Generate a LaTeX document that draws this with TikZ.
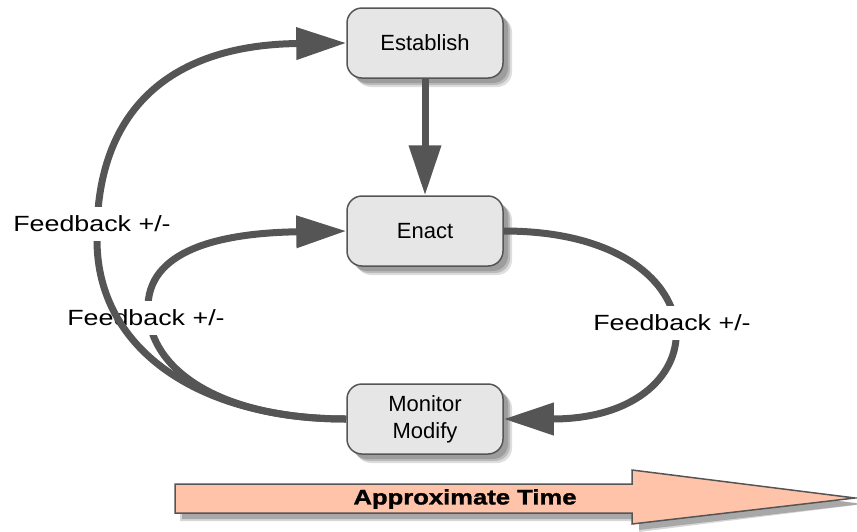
\documentclass[tikz,border=0pt]{standalone}
\usepackage{fontspec}
\setmainfont{Liberation Sans}
\newfontfamily\lblfont[FakeStretch=1.22]{Liberation Sans}
\newfontfamily\timefont[FakeStretch=1.22,FakeBold=1.5]{Liberation Sans Bold}
\usetikzlibrary{arrows.meta}
\definecolor{lineg}{HTML}{555555}
\definecolor{boxfill}{HTML}{E6E6E6}
\definecolor{peach}{HTML}{FFC3A9}
\definecolor{shadowg}{HTML}{7A7A7A}
\tikzset{
  box/.style={draw=lineg, line width=1.5pt, fill=boxfill, rounded corners=15pt,
    minimum width=156pt, minimum height=70pt, inner sep=0pt, align=center,
    font=\fontsize{22}{27}\selectfont,
    preaction={fill=shadowg, draw=none, opacity=0.25, transform canvas={shift={(9pt,-9pt)}}},
    preaction={fill=shadowg, draw=none, opacity=0.35, transform canvas={shift={(7pt,-7pt)}}},
    preaction={fill=shadowg, draw=none, opacity=0.45, transform canvas={shift={(5pt,-5pt)}}}},
  conn/.style={draw=lineg, line width=7pt, -{Triangle[length=50pt,width=31pt]}},
  lbl/.style={fill=white, inner xsep=2pt, inner ysep=9pt, font=\fontsize{22}{26}\lblfont},
  timelbl/.style={inner sep=0pt, font=\fontsize{21}{24}\timefont}
}
\begin{document}
\begin{tikzpicture}[x=1pt,y=-1pt]
\useasboundingbox (0,0) rectangle (857,531);
% boxes
\node[box] (est) at (425,43) {Establish};
\node[box] (ena) at (425,231) {Enact};
\node[box] (mon) at (425,419) {\raisebox{-2pt}{\parbox{150pt}{\centering Monitor\\Modify}}};
% down arrow
\draw[conn] (est.south) -- (ena.north);
% inner loop
\draw[conn] (mon.west) .. controls (220,419) and (150,370) .. (148,310)
  .. controls (146,250) and (220,233) .. (ena.west);
\node[lbl] (fb2) at (146,318) {Feedback +/-};
% outer loop
\draw[conn] (mon.west) .. controls (200,419) and (97,350) .. (97,240)
  .. controls (95,115) and (165,45) .. (est.west);
\node[lbl] (fb1) at (92,224) {Feedback +/-};
% right loop
\draw[conn] (ena.east) .. controls (725,231) and (725,419) .. (mon.east);
\node[lbl] (fb3) at (672,323) {Feedback +/-};
% time arrow
\begin{scope}[shift={(7pt,-6pt)}]
  \fill[shadowg, opacity=0.3] (173,482) -- (632,482) -- (632,468) -- (857,498) -- (632,526) -- (632,515) -- (173,515) -- cycle;
  \fill[shadowg, opacity=0.5] (175,484) -- (632,484) -- (632,470) -- (855,498) -- (632,524) -- (632,513) -- (175,513) -- cycle;
\end{scope}
\draw[draw=lineg, line width=1.5pt, fill=peach, line join=miter]
  (175,484) -- (632,484) -- (632,470) -- (855,498) -- (632,524) -- (632,513) -- (175,513) -- cycle;
\node[timelbl] (time) at (465,499) {Approximate Time};
\end{tikzpicture}
\end{document}
